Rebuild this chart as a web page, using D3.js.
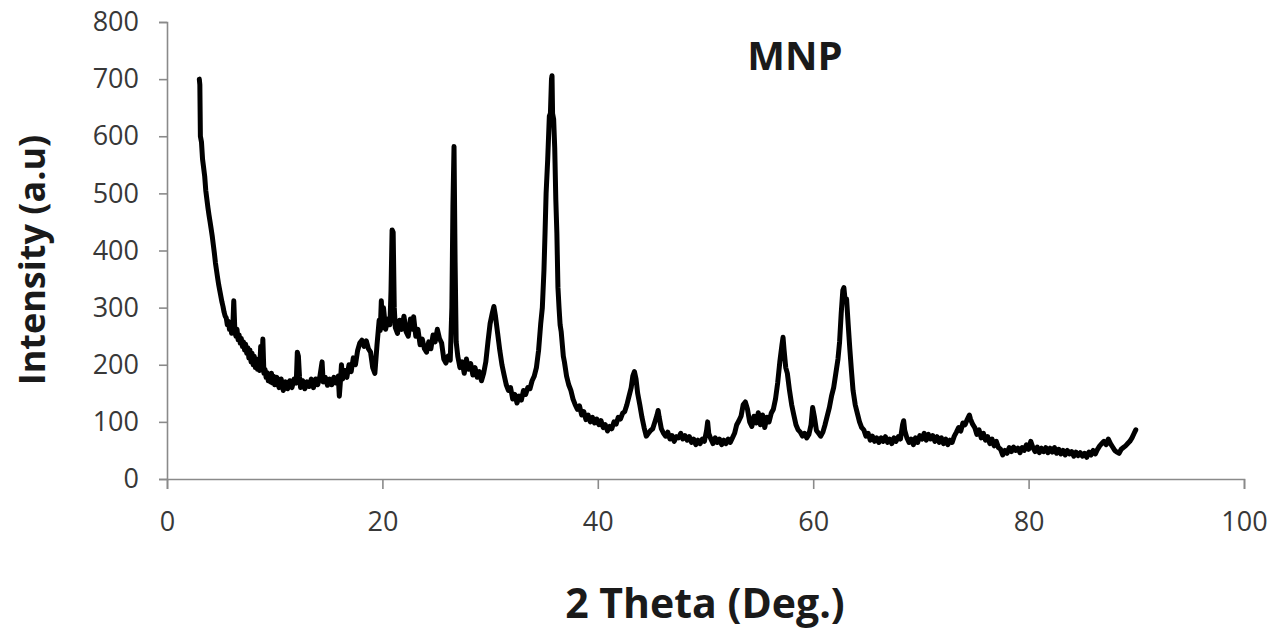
<!DOCTYPE html>
<html>
<head>
  <meta charset="utf-8">
  <title>XRD pattern - MNP</title>
  <style type="text/css">
    body { margin: 0; background: #fff; }
    .axis path, .axis line { stroke: #8a8a8a; stroke-width: 1.6; }
    .axis text { font-family: "Open Sans", sans-serif; font-size: 27px; fill: #383838; }
    .title { font-family: "Open Sans", sans-serif; font-weight: bold; fill: #1a1a1a; }
  </style>
</head>
<body>
  <svg width="1277" height="630"></svg>
  <script src="https://d3js.org/d3.v7.min.js"></script>
  <script>
    // 1. data: [2 theta (deg), intensity (a.u)]
    var xrdScan = [
      [3.0, 700], [3.05, 690], [3.1, 600], [3.2, 590], [3.3, 560], [3.4, 545], [3.5, 530], [3.6, 505],
      [3.7, 490], [3.8, 475], [3.9, 462], [4.0, 450], [4.1, 438], [4.2, 425], [4.3, 410], [4.4, 395],
      [4.5, 378], [4.6, 365], [4.7, 352], [4.8, 340], [4.9, 330], [5.0, 320], [5.1, 310], [5.2, 302],
      [5.3, 292], [5.4, 285], [5.5, 282], [5.6, 270], [5.7, 276], [5.8, 262], [5.9, 268], [6.0, 255],
      [6.1, 262], [6.2, 312], [6.3, 260], [6.4, 250], [6.5, 262], [6.6, 244], [6.7, 252], [6.8, 238],
      [6.9, 246], [7.0, 232], [7.1, 240], [7.2, 226], [7.3, 236], [7.4, 220], [7.5, 230], [7.6, 212],
      [7.7, 226], [7.8, 205], [7.9, 220], [8.0, 200], [8.1, 215], [8.2, 195], [8.3, 210], [8.4, 192],
      [8.5, 205], [8.6, 190], [8.7, 232], [8.8, 196], [8.9, 245], [9.0, 185], [9.1, 192], [9.2, 178],
      [9.3, 186], [9.4, 172], [9.5, 182], [9.6, 170], [9.7, 185], [9.8, 168], [9.9, 180], [10.0, 165],
      [10.2, 178], [10.4, 160], [10.6, 175], [10.8, 155], [11.0, 170], [11.2, 158], [11.4, 172], [11.6, 160],
      [11.8, 175], [12.0, 168], [12.1, 222], [12.2, 215], [12.3, 180], [12.4, 160], [12.6, 172], [12.8, 158],
      [13.0, 170], [13.2, 162], [13.4, 175], [13.6, 160], [13.8, 175], [14.0, 165], [14.2, 180], [14.4, 205],
      [14.5, 170], [14.7, 178], [14.9, 164], [15.1, 175], [15.3, 165], [15.5, 178], [15.7, 168], [15.9, 180],
      [16.0, 145], [16.1, 170], [16.2, 200], [16.3, 175], [16.5, 190], [16.7, 178], [16.9, 200], [17.1, 188],
      [17.3, 212], [17.5, 200], [17.7, 225], [17.9, 238], [18.1, 243], [18.3, 232], [18.5, 242], [18.7, 228],
      [18.9, 222], [19.1, 195], [19.3, 185], [19.5, 235], [19.7, 278], [19.8, 260], [19.9, 312], [20.0, 265],
      [20.1, 300], [20.3, 262], [20.5, 280], [20.7, 270], [20.8, 330], [20.9, 436], [21.0, 432], [21.1, 300],
      [21.2, 265], [21.4, 255], [21.6, 278], [21.8, 262], [22.0, 285], [22.2, 258], [22.4, 250], [22.6, 280],
      [22.8, 262], [22.9, 284], [23.1, 250], [23.3, 262], [23.5, 235], [23.7, 245], [23.9, 228], [24.1, 222],
      [24.3, 240], [24.5, 228], [24.7, 252], [24.9, 240], [25.1, 262], [25.3, 246], [25.5, 238], [25.7, 210],
      [25.9, 203], [26.1, 215], [26.3, 208], [26.45, 300], [26.55, 480], [26.65, 582], [26.75, 380], [26.85, 240],
      [27.0, 215], [27.2, 195], [27.4, 205], [27.6, 185], [27.8, 210], [28.0, 192], [28.2, 202], [28.4, 182],
      [28.6, 195], [28.8, 178], [29.0, 188], [29.2, 172], [29.4, 185], [29.6, 205], [29.8, 240], [30.0, 272],
      [30.2, 290], [30.35, 302], [30.5, 285], [30.7, 255], [30.9, 225], [31.1, 200], [31.3, 182], [31.5, 165],
      [31.7, 155], [31.9, 160], [32.1, 140], [32.3, 148], [32.5, 133], [32.7, 145], [32.9, 138], [33.1, 155],
      [33.3, 148], [33.5, 160], [33.7, 158], [33.9, 172], [34.1, 180], [34.3, 195], [34.5, 225], [34.7, 272],
      [34.85, 300], [35.0, 365], [35.1, 430], [35.2, 500], [35.35, 560], [35.5, 635], [35.6, 640], [35.7, 700],
      [35.75, 706], [35.8, 640], [35.9, 630], [36.0, 580], [36.1, 490], [36.2, 430], [36.3, 335], [36.4, 300],
      [36.5, 270], [36.6, 258], [36.8, 215], [36.9, 205], [37.1, 180], [37.3, 165], [37.5, 155], [37.7, 140],
      [37.9, 130], [38.1, 122], [38.3, 128], [38.5, 112], [38.7, 118], [38.9, 104], [39.1, 112], [39.3, 100],
      [39.5, 108], [39.7, 98], [39.9, 105], [40.1, 95], [40.3, 102], [40.5, 90], [40.7, 95], [40.9, 84],
      [41.1, 92], [41.3, 88], [41.5, 100], [41.7, 96], [41.9, 108], [42.1, 105], [42.3, 115], [42.5, 118],
      [42.7, 130], [42.9, 145], [43.1, 160], [43.25, 180], [43.4, 188], [43.55, 175], [43.7, 150], [43.9, 130],
      [44.1, 108], [44.3, 90], [44.5, 75], [44.7, 80], [44.9, 85], [45.1, 88], [45.3, 100], [45.5, 112],
      [45.6, 120], [45.7, 108], [45.9, 88], [46.1, 80], [46.3, 75], [46.5, 82], [46.7, 70], [46.9, 76],
      [47.1, 66], [47.3, 74], [47.5, 72], [47.7, 80], [47.9, 70], [48.1, 76], [48.3, 68], [48.5, 74],
      [48.7, 64], [48.9, 70], [49.1, 60], [49.3, 68], [49.5, 62], [49.7, 70], [49.9, 66], [50.1, 85],
      [50.2, 100], [50.3, 80], [50.5, 70], [50.7, 62], [50.9, 72], [51.1, 64], [51.3, 70], [51.5, 60],
      [51.7, 68], [51.9, 62], [52.1, 70], [52.3, 64], [52.5, 72], [52.7, 80], [52.9, 95], [53.1, 102],
      [53.3, 110], [53.5, 130], [53.7, 135], [53.9, 122], [54.1, 100], [54.3, 92], [54.5, 110], [54.7, 98],
      [54.9, 116], [55.1, 95], [55.3, 112], [55.5, 90], [55.7, 108], [55.9, 100], [56.1, 115], [56.3, 122],
      [56.5, 140], [56.7, 168], [56.9, 205], [57.0, 220], [57.1, 235], [57.2, 248], [57.3, 225], [57.45, 195],
      [57.6, 185], [57.8, 155], [58.0, 130], [58.2, 112], [58.4, 95], [58.6, 86], [58.8, 82], [59.0, 75],
      [59.2, 80], [59.4, 72], [59.6, 78], [59.8, 95], [59.95, 125], [60.1, 110], [60.3, 85], [60.5, 80],
      [60.7, 75], [60.9, 82], [61.1, 95], [61.3, 110], [61.5, 125], [61.7, 145], [61.9, 160], [62.1, 185],
      [62.3, 210], [62.45, 240], [62.6, 290], [62.75, 330], [62.85, 335], [62.95, 315], [63.1, 315], [63.25, 270],
      [63.4, 228], [63.55, 190], [63.7, 155], [63.9, 130], [64.1, 115], [64.3, 100], [64.5, 90], [64.7, 86],
      [64.9, 75], [65.1, 80], [65.3, 68], [65.5, 75], [65.7, 66], [65.9, 72], [66.1, 64], [66.3, 72],
      [66.5, 66], [66.7, 74], [66.9, 64], [67.1, 70], [67.3, 62], [67.5, 72], [67.7, 66], [67.9, 74],
      [68.1, 70], [68.3, 95], [68.4, 102], [68.5, 85], [68.7, 72], [68.9, 64], [69.1, 70], [69.3, 60],
      [69.5, 72], [69.7, 64], [69.9, 76], [70.1, 70], [70.3, 80], [70.5, 68], [70.7, 78], [70.9, 70],
      [71.1, 76], [71.3, 66], [71.5, 74], [71.7, 64], [71.9, 72], [72.1, 62], [72.3, 70], [72.5, 60],
      [72.7, 68], [72.9, 64], [73.1, 75], [73.3, 82], [73.5, 90], [73.7, 84], [73.9, 98], [74.1, 95],
      [74.3, 104], [74.5, 112], [74.6, 105], [74.8, 96], [75.0, 90], [75.2, 78], [75.4, 86], [75.6, 72],
      [75.8, 80], [76.0, 68], [76.2, 74], [76.4, 62], [76.6, 70], [76.8, 58], [77.0, 66], [77.2, 55],
      [77.4, 52], [77.6, 42], [77.8, 50], [78.0, 45], [78.2, 55], [78.4, 48], [78.6, 56], [78.8, 50],
      [79.0, 54], [79.2, 46], [79.4, 55], [79.6, 50], [79.8, 60], [80.0, 52], [80.2, 66], [80.4, 55],
      [80.6, 48], [80.8, 56], [81.0, 46], [81.2, 54], [81.4, 48], [81.6, 55], [81.8, 46], [82.0, 54],
      [82.2, 47], [82.4, 55], [82.6, 45], [82.8, 52], [83.0, 44], [83.2, 50], [83.4, 42], [83.6, 50],
      [83.8, 44], [84.0, 48], [84.2, 40], [84.4, 47], [84.6, 41], [84.8, 46], [85.0, 40], [85.2, 45],
      [85.4, 38], [85.6, 47], [85.8, 42], [86.0, 50], [86.2, 44], [86.4, 52], [86.6, 58], [86.8, 62],
      [87.0, 66], [87.2, 60], [87.4, 70], [87.6, 62], [87.8, 56], [88.0, 50], [88.2, 47], [88.4, 45],
      [88.6, 52], [88.8, 55], [89.0, 58], [89.2, 62], [89.4, 66], [89.6, 72], [89.8, 80], [89.95, 86]
    ];

    var xTicks = [0, 20, 40, 60, 80, 100];
    var yTicks = [0, 100, 200, 300, 400, 500, 600, 700, 800];
    var chartTitle = "MNP";
    var xLabel = "2 Theta (Deg.)";
    var yLabel = "Intensity (a.u)";

    // 2. scales
    var svg = d3.select("svg");
    var margin = { top: 22, right: 33, bottom: 151, left: 167 };
    var width = 1277 - margin.left - margin.right;
    var height = 630 - margin.top - margin.bottom;

    var x = d3.scaleLinear().domain([0, 100]).range([0, width]);
    var y = d3.scaleLinear().domain([0, 800]).range([height, 0]);

    var g = svg.append("g")
      .attr("transform", "translate(" + margin.left + "," + margin.top + ")");

    // 3. axes
    g.append("g")
      .attr("class", "axis")
      .attr("transform", "translate(0," + height + ")")
      .call(d3.axisBottom(x).tickValues(xTicks).tickSize(10).tickSizeOuter(10).tickPadding(23));

    g.append("g")
      .attr("class", "axis")
      .call(d3.axisLeft(y).tickValues(yTicks).tickSize(8).tickSizeOuter(8).tickPadding(20));

    // 4. the scan line
    var line = d3.line()
      .x(function (d) { return x(d[0]); })
      .y(function (d) { return y(d[1]); });

    g.append("path")
      .datum(xrdScan)
      .attr("fill", "none")
      .attr("stroke", "#000")
      .attr("stroke-width", 5)
      .attr("stroke-linejoin", "round")
      .attr("stroke-linecap", "round")
      .attr("d", line);

    // 5. titles
    svg.append("text")
      .attr("class", "title")
      .attr("x", 795)
      .attr("y", 70)
      .attr("text-anchor", "middle")
      .style("font-size", "40px")
      .text(chartTitle);

    svg.append("text")
      .attr("class", "title")
      .attr("x", 705)
      .attr("y", 618)
      .attr("text-anchor", "middle")
      .style("font-size", "41px")
      .text(xLabel);

    svg.append("text")
      .attr("class", "title")
      .attr("transform", "translate(45,260) rotate(-90)")
      .attr("text-anchor", "middle")
      .style("font-size", "36px")
      .text(yLabel);
  </script>
</body>
</html>
